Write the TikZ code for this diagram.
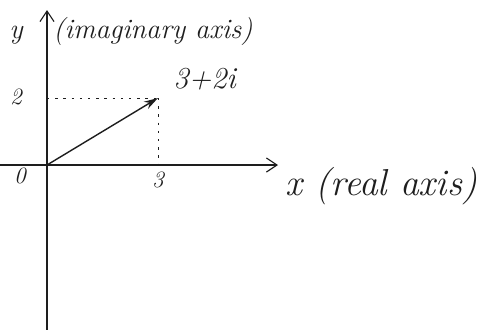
\documentclass[tikz,border=0pt]{standalone}
\usepackage{tikz}
\usetikzlibrary{arrows.meta, positioning, calc}
\definecolor{inkcolor}{RGB}{30, 30, 30}

\tikzset{
  axisline/.style={draw=inkcolor, line width=1pt, -{Straight Barb[length=9pt, width=12pt]}},
  guideline/.style={draw=inkcolor, line width=0.6pt, dash pattern=on 2pt off 5pt},
  hand/.style={text=inkcolor, font=\fontsize{24}{28}\selectfont\itshape, inner sep=1pt},
  tick/.style={text=inkcolor, font=\fontsize{20}{24}\selectfont\itshape, inner sep=1pt}
}

\begin{document}
\begin{tikzpicture}[x=0.03cm, y=-0.03cm]
\useasboundingbox (0,0) rectangle (495,330);

% axes
\coordinate (O) at (47,165);
\coordinate (xend) at (278,165);
\coordinate (yend) at (47,10);
\coordinate (ybot) at (47,330);
\coordinate (xbeg) at (0,165);
\coordinate (P) at (158,98);

\draw[axisline] (xbeg) -- (xend);
\draw[axisline] (ybot) -- (yend);

% dotted guides to the point
\draw[guideline] (O |- P) -- (P);
\draw[guideline] (P) -- (P |- O);

% the vector
\draw[draw=inkcolor, line width=1.2pt, -{Stealth[length=12pt, width=7pt]}] (O) -- (P);

% labels
\node[hand, anchor=base west] (ylab) at (8,38) {y};
\node[hand, anchor=base west] (ytext) at (52,38) {(imaginary axis)};
\node[tick] (two) at (16,97) {2};
\node[tick] (zero) at (20,176) {0};
\node[tick] (three) at (158,180) {3};
\node[tick, anchor=base west, font=\fontsize{26}{30}\selectfont\itshape] (zlab) at (172,88) {3+2i};
\node[hand, anchor=base west, font=\fontsize{32}{38}\selectfont\itshape] (xtext) at (284,195) {x (real axis)};
\end{tikzpicture}
\end{document}
